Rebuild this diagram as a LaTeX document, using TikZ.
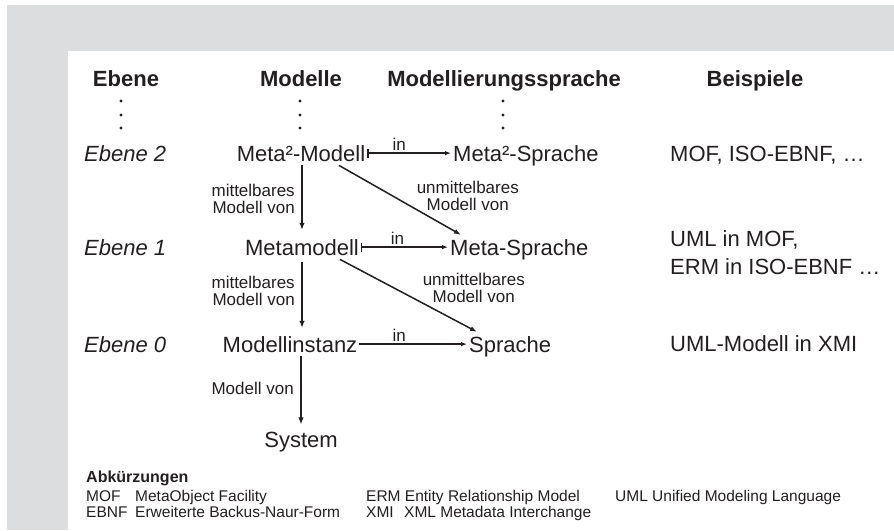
\documentclass[tikz,border=0pt]{standalone}
\usepackage{fontspec}
\setmainfont{Liberation Sans}
\usetikzlibrary{arrows.meta}
\definecolor{bggray}{HTML}{DCDDDF}
\definecolor{ink}{HTML}{231F20}
\begin{document}
\begin{tikzpicture}[x=1pt,y=-1pt,
  every node/.style={text=ink, inner xsep=2pt, inner ysep=4pt},
  main/.style={font=\fontsize{22}{26}\selectfont, anchor=base},
  hdr/.style={font=\bfseries\fontsize{22}{26}\selectfont, anchor=base},
  lvl/.style={font=\itshape\fontsize{22}{26}\selectfont, anchor=base west},
  ex/.style={font=\fontsize{22}{26}\selectfont, anchor=base west},
  small/.style={font=\fontsize{17}{17}\selectfont, align=center, inner sep=0pt},
  smallr/.style={font=\fontsize{17}{17}\selectfont, align=right, inner sep=0pt},
  leg/.style={font=\fontsize{15.5}{16}\selectfont, anchor=base west, inner sep=0pt},
  legb/.style={font=\bfseries\fontsize{16}{16}\selectfont, anchor=base west, inner sep=0pt},
  inarrow/.style={draw=ink, line width=1.3pt, {Bar[width=9pt,line width=1.3pt]}-{Latex[length=6pt,width=4.5pt]}},
  inarrowplain/.style={draw=ink, line width=1.3pt, -{Latex[length=6pt,width=4.5pt]}},
  vert/.style={draw=ink, line width=2.5pt, -{Latex[length=7pt,width=5.5pt]}},
  diag/.style={draw=ink, line width=1.5pt, -{Latex[length=7pt,width=5pt]}},
  dot/.style={fill=ink}
]
\useasboundingbox (0,0) rectangle (894,530);
\fill[white] (0,0) rectangle (894,530);
\fill[bggray] (7,5) rectangle (894,530);
\fill[white] (68,51) rectangle (894,530);

% headers
\node[hdr] (hE) at (126,86) {Ebene};
\node[hdr] (hM) at (301,86) {Modelle};
\node[hdr] (hS) at (504,86) {Modellierungssprache};
\node[hdr] (hB) at (755,86) {Beispiele};

% dots
\foreach \xx in {121,300,503}{
  \foreach \yy in {101,115,128}{
    \fill[dot] (\xx,\yy) circle (1.7pt);
  }
}

% levels
\node[lvl] (e2) at (82,161) {Ebene 2};
\node[lvl] (e1) at (82,255) {Ebene 1};
\node[lvl] (e0) at (82,352) {Ebene 0};

% models
\node[main] (m2) at (301,161) {Meta²-Modell};
\node[main] (m1) at (302,255) {Metamodell};
\node[main] (m0) at (290,352) {Modellinstanz};
\node[main] (sys) at (301,447) {System};

% languages
\node[ex] (s2) at (451,161) {Meta²-Sprache};
\node[ex] (s1) at (448,255) {Meta-Sprache};
\node[ex] (s0) at (467,352) {Sprache};

% examples
\node[ex] (b2) at (668,161) {MOF, ISO-EBNF, …};
\node[ex] (b1) at (668,246) {UML in MOF,};
\node[ex] (b1b) at (668,274) {ERM in ISO-EBNF …};
\node[ex] (b0) at (668,351) {UML-Modell in XMI};

% "in" arrows
\draw[inarrow] (m2.east) -- (m2.east -| s2.west) node[small, pos=.38, above=2pt] {in};
\draw[inarrow] (m1.east) -- (m1.east -| s1.west) node[small, pos=.42, above=2pt] {in};
\draw[inarrowplain] (m0.east) -- (m0.east -| s0.west) node[small, pos=.37, above=2pt] {in};

% vertical arrows
\draw[vert, shorten >=5pt] (m1.north |- m2.south) -- (m1.north)
  node[smallr, midway, left=6pt, yshift=1pt] {mittelbares\\Modell von};
\draw[vert, shorten <=3pt, shorten >=4pt] (m1.south) -- (m1.south |- m0.north)
  node[smallr, midway, left=6pt, yshift=5pt] {mittelbares\\Modell von};
\draw[vert, shorten >=3pt] (sys.north |- m0.south) -- (sys.north)
  node[smallr, midway, left=6pt, yshift=4pt] {Modell von};

% diagonal arrows
\draw[diag] ([xshift=38pt]m2.south) -- ([xshift=13pt]s1.north west)
  node[small, midway, right=16pt, yshift=4pt] {unmittelbares\\Modell von};
\draw[diag] ([xshift=38pt]m1.south) -- ([xshift=10pt]s0.north west)
  node[small, midway, right=13.5pt, yshift=8pt] {unmittelbares\\Modell von};

% legend
\node[legb] (abk) at (86,482) {Abkürzungen};
\node[leg] (k1) at (86,501) {MOF};
\node[leg] (d1) at (135,501) {MetaObject Facility};
\node[leg] (k2) at (366,501) {ERM Entity Relationship Model};
\node[leg] (k3) at (615,501) {UML Unified Modeling Language};
\node[leg] (k4) at (86,517) {EBNF};
\node[leg] (d4) at (135,517) {Erweiterte Backus-Naur-Form};
\node[leg] (k5) at (366,517) {XMI};
\node[leg] (d5) at (404,517) {XML Metadata Interchange};
\end{tikzpicture}
\end{document}
